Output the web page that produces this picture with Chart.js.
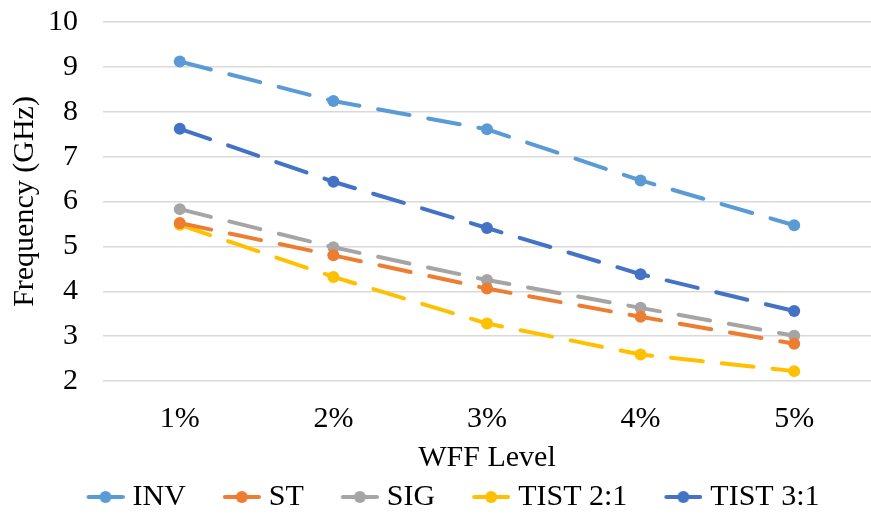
<!DOCTYPE html>
<html>
<head>
<meta charset="utf-8">
<script src="https://cdn.jsdelivr.net/npm/chart.js@4.4.0/dist/chart.umd.min.js"></script>
<style>
  html, body { margin: 0; padding: 0; background: #fff; }
  #wrap { width: 871px; height: 516px; }
</style>
</head>
<body>
<div id="wrap"><canvas id="freqChart"></canvas></div>
<script>
'use strict';

var levels = ['1%', '2%', '3%', '4%', '5%'];
var invValues = [9.12, 8.24, 7.61, 6.47, 5.47];
var stValues = [5.52, 4.80, 4.06, 3.43, 2.83];
var sigValues = [5.83, 4.98, 4.25, 3.63, 3.01];
var tist21Values = [5.48, 4.32, 3.28, 2.59, 2.22];
var tist31Values = [7.62, 6.44, 5.41, 4.38, 3.56];
var yTicks = [2, 3, 4, 5, 6, 7, 8, 9, 10];

var fontFamily = '"Liberation Serif", "Times New Roman", serif';
var fontSize = 30;

// boîte de légende plus large que le marqueur : espace libre à gauche
var legendBoxWidth = 64;

// petit trait + point pour la légende, collé à droite du canvas
function legendMarker(color) {
  var c = document.createElement('canvas');
  c.width = legendBoxWidth + 14;
  c.height = 14;
  var ctx = c.getContext('2d');
  var x0 = c.width - 38;
  ctx.strokeStyle = color;
  ctx.lineWidth = 4;
  ctx.lineCap = 'round';
  ctx.beginPath();
  ctx.moveTo(x0 + 2, 7);
  ctx.lineTo(x0 + 36, 7);
  ctx.stroke();
  ctx.fillStyle = color;
  ctx.beginPath();
  ctx.arc(x0 + 19, 7, 6, 0, Math.PI * 2);
  ctx.fill();
  return c;
}

function makeSeries(label, data, color) {
  return {
    label: label,
    data: data,
    borderColor: color,
    backgroundColor: color,
    borderWidth: 4,
    borderDash: [32, 19],
    borderCapStyle: 'round',
    pointRadius: 6,
    pointHoverRadius: 6,
    pointBackgroundColor: color,
    pointBorderWidth: 0,
    pointStyle: legendMarker(color),
    fill: false,
    tension: 0
  };
}

var datasets = [
  makeSeries('INV', invValues, '#5b9bd5'),
  makeSeries('ST', stValues, '#ed7d31'),
  makeSeries('SIG', sigValues, '#a5a5a5'),
  makeSeries('TIST 2:1', tist21Values, '#ffc000'),
  makeSeries('TIST 3:1', tist31Values, '#4472c4')
];

// les points du graphique sont des cercles, seul le marqueur de légende est une image
var circlePoints = {
  id: 'circlePoints',
  beforeDatasetsDraw: function (chart) {
    chart.data.datasets.forEach(function (ds, i) {
      var meta = chart.getDatasetMeta(i);
      meta.data.forEach(function (pt) {
        pt.options.pointStyle = 'circle';
      });
    });
  }
};

var ctx = document.getElementById('freqChart').getContext('2d');

new Chart(ctx, {
  type: 'line',
  data: {
    labels: levels,
    datasets: datasets
  },
  plugins: [circlePoints],
  options: {
    animation: false,
    responsive: true,
    maintainAspectRatio: false,
    layout: {
      autoPadding: false,
      padding: { top: 0, right: 0, left: 2, bottom: 0 }
    },
    scales: {
      x: {
        offset: true,
        afterFit: function (axis) {
          axis.height = 97;
          axis.paddingLeft = 0;
          axis.paddingRight = 0;
        },
        grid: { display: false, drawTicks: false },
        border: { display: false },
        ticks: {
          autoSkip: false,
          maxRotation: 0,
          color: '#000',
          font: { family: fontFamily, size: fontSize, lineHeight: 1 },
          padding: 23
        },
        title: {
          display: true,
          text: 'WFF Level',
          color: '#000',
          font: { family: fontFamily, size: fontSize, lineHeight: 1 },
          padding: { top: 0, bottom: 5 }
        }
      },
      y: {
        min: 2,
        max: 10,
        afterBuildTicks: function (axis) {
          axis.ticks = yTicks.map(function (v) { return { value: v }; });
        },
        afterFit: function (axis) {
          axis.width = 101;
          axis.paddingTop = 22;
          axis.paddingBottom = 0;
        },
        grid: { color: '#d9d9d9', lineWidth: 1.5, drawTicks: false },
        border: { display: false },
        ticks: {
          autoSkip: false,
          color: '#000',
          font: { family: fontFamily, size: fontSize, lineHeight: 1 },
          padding: 25
        },
        title: {
          display: true,
          text: 'Frequency (GHz)',
          color: '#000',
          font: { family: fontFamily, size: fontSize, lineHeight: 1 },
          padding: { top: 8, bottom: 0 }
        }
      }
    },
    plugins: {
      legend: {
        position: 'bottom',
        maxHeight: 38,
        labels: {
          usePointStyle: true,
          pointStyleWidth: legendBoxWidth,
          color: '#000',
          font: { family: fontFamily, size: fontSize, lineHeight: 1 },
          padding: 4,
          boxHeight: 14
        }
      },
      tooltip: { enabled: false }
    }
  }
});
</script>
</body>
</html>
